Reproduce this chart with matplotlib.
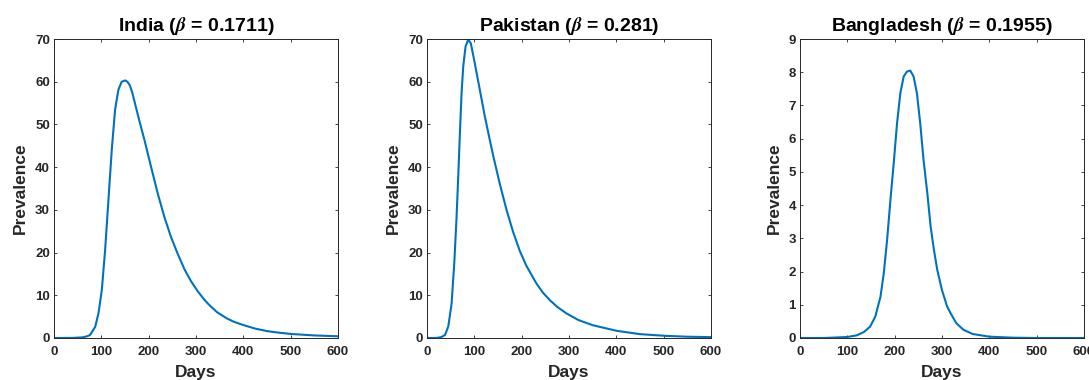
import matplotlib
matplotlib.use('Agg')
import matplotlib.pyplot as plt

plt.rcParams['font.family'] = ['Liberation Sans', 'DejaVu Sans']
plt.rcParams['font.weight'] = 'bold'
plt.rcParams['mathtext.fontset'] = 'stix'

# values
india_days = [0, 40, 60, 70, 76, 87, 94, 101, 108, 115, 122, 129, 136, 143, 150.5,
              155, 160, 165, 170, 180, 191, 205, 219, 233, 247, 261, 276, 290, 304, 318,
              330, 345, 365, 380, 401, 425, 451, 475, 500, 550, 600]
india_prev = [0, 0.02, 0.15, 0.4, 0.7, 2.6, 5.8, 11.2, 20.6, 32.3, 44, 53.4, 58.1, 60.0, 60.3,
              60.0, 59.2, 57.6, 55.4, 51, 46.4, 40.1, 33.9, 28.4, 23.7, 19.8, 16.0, 13.2, 10.9, 8.9,
              7.5, 6.0, 4.6, 3.8, 3.0, 2.2, 1.6, 1.25, 0.95, 0.6, 0.4]

pak_days = [0, 20, 30, 38, 45, 52, 57.6, 62.5, 66, 69.5, 73, 76.5, 81.4, 87, 92.6,
            101, 111.6, 122, 132.6, 140, 154, 168, 182, 196, 210, 231, 245, 260,
            275, 294, 320, 350, 400, 450, 505, 550, 600]
pak_prev = [0, 0.02, 0.2, 0.7, 2.7, 8.1, 17.5, 28.4, 37.8, 47.9, 57.3, 63.5, 68.2, 69.9, 69.0,
            64.3, 58.1, 52, 46.4, 42.6, 36, 30, 24.8, 20.4, 16.9, 12.8, 10.6, 8.8,
            7.3, 5.8, 4.2, 3.0, 1.7, 0.9, 0.5, 0.3, 0.2]

bang_days = [0, 50, 100, 120, 135, 148, 159, 170, 177, 184, 191, 198, 205, 212, 219,
             226, 233, 240, 247, 254, 261, 269, 276, 283, 290, 300, 311, 318, 330,
             345, 365, 400, 450, 500, 600]
bang_prev = [0, 0.0, 0.03, 0.08, 0.18, 0.34, 0.64, 1.24, 1.95, 2.95, 4.15, 5.26, 6.46, 7.37, 7.87,
             8.02, 8.05, 7.87, 7.37, 6.46, 5.36, 4.36, 3.35, 2.65, 2.05, 1.44, 0.94, 0.75, 0.45,
             0.25, 0.12, 0.04, 0.01, 0.0, 0.0]

titles = [r'India ($\beta$ = 0.1711)', r'Pakistan ($\beta$ = 0.281)', r'Bangladesh ($\beta$ = 0.1955)']
ymaxes = [70, 70, 9]
ysteps = [10, 10, 1]
series = [(india_days, india_prev), (pak_days, pak_prev), (bang_days, bang_prev)]
lefts = [54 / 1089, 427 / 1089, 800 / 1089]

fig = plt.figure(figsize=(10.89, 3.8), dpi=100)
dark = '#262626'

for i in range(3):
    ax = fig.add_axes([lefts[i], 42 / 380, 284 / 1089, 299 / 380])
    x, y = series[i]
    ax.plot(x, y, color='#0072BD', lw=1.5)
    ax.set_xlim(0, 600)
    ax.set_ylim(0, ymaxes[i])
    ax.set_xticks(range(0, 601, 100))
    ax.set_yticks(range(0, ymaxes[i] + 1, ysteps[i]))
    ax.tick_params(direction='in', length=2.5, width=0.6, colors=dark,
                   labelsize=9.5, top=True, right=True)
    ax.tick_params(axis='x', pad=6)
    ax.tick_params(axis='y', pad=3)
    for sp in ax.spines.values():
        sp.set_color(dark)
        sp.set_linewidth(0.7)
    ax.set_title(titles[i], fontsize=14, fontweight='bold', color='black', pad=6)
    ax.set_xlabel('Days', fontsize=12.5, fontweight='bold', color=dark, labelpad=5)
    ax.set_ylabel('Prevalence', fontsize=12.5, fontweight='bold', color=dark, labelpad=5)

fig.savefig('out.png', dpi=100)
